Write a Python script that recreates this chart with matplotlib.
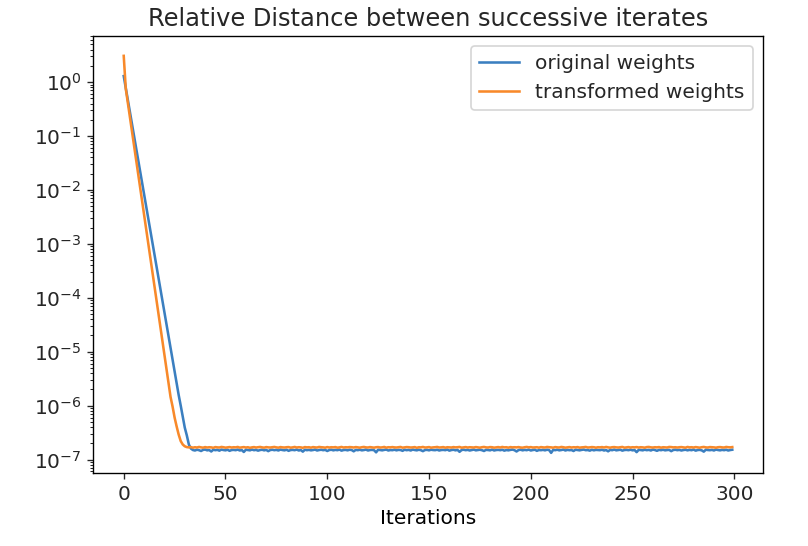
import numpy as np
import matplotlib
matplotlib.use("Agg")
import matplotlib.pyplot as plt

# ---- data ----
blue_decay = [1.29, 0.778, 0.470, 0.284, 0.171, 0.1035, 0.0625, 0.0378, 0.0228, 0.0138,
              8.32e-3, 5.02e-3, 3.03e-3, 1.83e-3, 1.11e-3, 6.68e-4, 4.04e-4, 2.44e-4, 1.47e-4, 8.89e-5,
              5.37e-5, 3.24e-5, 1.96e-5, 1.18e-5, 7.14e-6, 4.32e-6, 2.61e-6, 1.57e-6, 1.0e-6, 6.2e-7,
              3.9e-7, 2.8e-7, 1.9e-7, 1.6e-7]
# plateau values in units of 1e-7
blue_floor_e7 = [
    1.50,1.47,1.52,1.49,1.44,1.51,1.53,1.48,1.50,1.41,1.52,1.49,1.51,1.46,1.53,1.50,1.48,1.52,1.45,1.50,
    1.51,1.49,1.53,1.47,1.50,1.38,1.52,1.50,1.48,1.53,1.49,1.51,1.46,1.50,1.52,1.48,1.51,1.43,1.50,1.52,
    1.49,1.51,1.47,1.53,1.50,1.48,1.52,1.45,1.50,1.51,1.49,1.53,1.47,1.50,1.40,1.52,1.49,1.51,1.48,1.50,
    1.53,1.47,1.50,1.52,1.49,1.51,1.44,1.50,1.52,1.48,1.51,1.49,1.53,1.46,1.50,1.51,1.48,1.52,1.50,1.42,
    1.51,1.49,1.52,1.48,1.50,1.53,1.47,1.50,1.51,1.49,1.36,1.52,1.50,1.48,1.51,1.53,1.47,1.50,1.49,1.52,
    1.48,1.51,1.50,1.45,1.52,1.49,1.51,1.47,1.53,1.50,1.48,1.52,1.49,1.43,1.50,1.51,1.48,1.52,1.50,1.49,
    1.52,1.47,1.50,1.51,1.49,1.53,1.46,1.50,1.52,1.48,1.51,1.39,1.50,1.52,1.49,1.51,1.47,1.50,1.53,1.48,
    1.50,1.52,1.49,1.44,1.51,1.50,1.48,1.53,1.47,1.50,1.51,1.49,1.52,1.46,1.50,1.48,1.51,1.53,1.49,1.41,
    1.50,1.52,1.48,1.51,1.49,1.53,1.47,1.50,1.52,1.45,1.50,1.49,1.51,1.48,1.52,1.50,1.33,1.51,1.49,1.52,
    1.48,1.50,1.53,1.47,1.51,1.49,1.50,1.44,1.52,1.50,1.48,1.51,1.53,1.49,1.50,1.46,1.52,1.48,1.51,1.50,
    1.49,1.52,1.47,1.50,1.42,1.51,1.49,1.53,1.48,1.50,1.52,1.46,1.50,1.51,1.49,1.52,1.48,1.50,1.37,1.51,
    1.50,1.48,1.52,1.49,1.51,1.47,1.53,1.50,1.45,1.51,1.49,1.52,1.48,1.50,1.51,1.43,1.50,1.52,1.49,1.51,
    1.47,1.50,1.52,1.48,1.51,1.49,1.53,1.46,1.50,1.51,1.48,1.40,1.52,1.50,1.49,1.51,1.47,1.53,1.50,1.48,
    1.51,1.49,1.52,1.47,1.50,1.52]

orange_decay = [3.06, 0.759, 0.417, 0.229, 0.126, 0.0692, 0.0380, 0.0209, 0.0115, 6.31e-3,
                3.47e-3, 1.91e-3, 1.05e-3, 5.75e-4, 3.16e-4, 1.74e-4, 9.55e-5, 5.25e-5, 2.88e-5, 1.59e-5,
                8.71e-6, 4.79e-6, 2.63e-6, 1.45e-6, 9.6e-7, 6.0e-7, 4.1e-7, 2.9e-7, 2.2e-7, 1.9e-7,
                1.76e-7, 1.70e-7]
orange_floor_e7 = [
    1.68,1.70,1.66,1.69,1.67,1.71,1.68,1.66,1.70,1.67,1.69,1.68,1.65,1.70,1.68,1.67,1.71,1.69,1.66,1.68,
    1.70,1.67,1.69,1.68,1.71,1.66,1.68,1.70,1.67,1.69,1.65,1.68,1.70,1.67,1.69,1.71,1.68,1.66,1.70,1.68,
    1.67,1.69,1.71,1.68,1.66,1.70,1.68,1.67,1.69,1.70,1.66,1.68,1.71,1.67,1.69,1.68,1.65,1.70,1.68,1.69,
    1.66,1.70,1.68,1.67,1.71,1.69,1.68,1.66,1.70,1.67,1.69,1.68,1.70,1.66,1.68,1.71,1.67,1.69,1.68,1.70,
    1.69,1.67,1.70,1.68,1.66,1.69,1.71,1.68,1.67,1.70,1.68,1.66,1.69,1.70,1.67,1.68,1.71,1.66,1.69,1.68,
    1.70,1.68,1.67,1.69,1.71,1.66,1.68,1.70,1.69,1.67,1.68,1.70,1.65,1.69,1.68,1.71,1.67,1.68,1.70,1.66,
    1.68,1.69,1.71,1.67,1.68,1.70,1.66,1.69,1.68,1.67,1.70,1.68,1.69,1.71,1.66,1.68,1.70,1.67,1.69,1.68,
    1.67,1.70,1.68,1.66,1.69,1.71,1.68,1.67,1.70,1.69,1.66,1.68,1.70,1.67,1.71,1.68,1.69,1.66,1.70,1.68,
    1.69,1.68,1.70,1.67,1.66,1.69,1.71,1.68,1.70,1.67,1.68,1.69,1.66,1.70,1.68,1.67,1.71,1.69,1.68,1.66,
    1.70,1.68,1.67,1.71,1.69,1.66,1.68,1.70,1.67,1.69,1.68,1.70,1.66,1.68,1.69,1.71,1.67,1.68,1.70,1.69,
    1.66,1.69,1.68,1.70,1.67,1.71,1.68,1.66,1.69,1.70,1.68,1.67,1.69,1.71,1.66,1.68,1.70,1.67,1.69,1.68,
    1.70,1.67,1.69,1.68,1.66,1.70,1.71,1.68,1.67,1.69,1.68,1.70,1.66,1.69,1.68,1.67,1.71,1.70,1.68,1.69,
    1.67,1.69,1.70,1.68,1.66,1.71,1.68,1.69,1.67,1.70,1.68,1.66,1.69,1.71,1.68,1.67,1.70,1.69,1.68,1.66,
    1.69,1.70,1.68,1.67,1.71,1.69,1.68,1.70]

series_labels = ["original weights", "transformed weights"]
title_text = "Relative Distance between successive iterates"
xlabel_text = "Iterations"
xticks = [0, 50, 100, 150, 200, 250, 300]

blue = np.array(blue_decay + [v * 1e-7 for v in blue_floor_e7])
orange = np.array(orange_decay + [v * 1e-7 for v in orange_floor_e7])

# ---- figure ----
plt.rcParams["font.size"] = 11.8
plt.rcParams["text.color"] = "#262626"
plt.rcParams["xtick.color"] = "#262626"
plt.rcParams["ytick.color"] = "#262626"
DPI = 123
fig = plt.figure(figsize=(808 / DPI, 546 / DPI), dpi=DPI)
ax = fig.add_axes([93.3 / 808, 1 - 472.7 / 546, (762.7 - 93.3) / 808, (472.7 - 36) / 546])

ax.plot(np.arange(len(blue)), blue, color="#3b7fc0", lw=1.5, label=series_labels[0])
ax.plot(np.arange(len(orange)), orange, color="#f8892a", lw=1.5, label=series_labels[1])
ax.set_yscale("log")
ax.set_xticks(xticks)
ax.set_title(title_text)
ax.set_xlabel(xlabel_text, labelpad=3)
ax.legend(loc="upper right")

fig.savefig("out.png", dpi=DPI)
